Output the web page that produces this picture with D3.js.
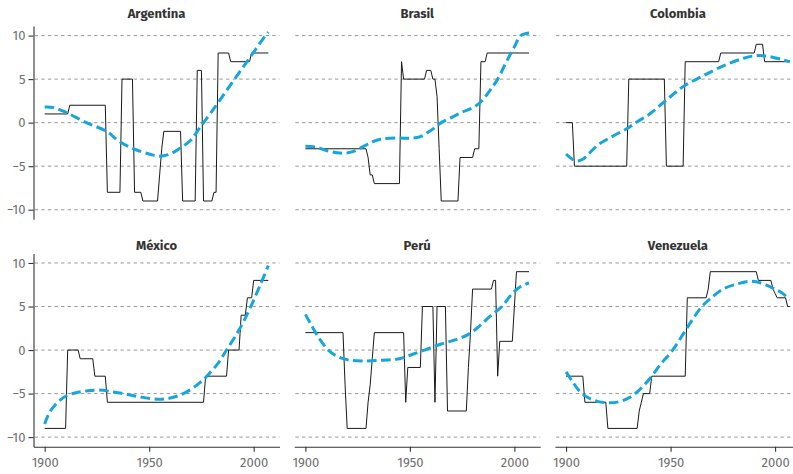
<!DOCTYPE html>
<html>
<head>
<meta charset="utf-8">
<script src="https://cdn.jsdelivr.net/npm/d3@7/dist/d3.min.js"></script>
<style>
  body { margin: 0; background: #fff; }
  svg { display: block; font-family: "Fira Sans", Roboto, "Noto Sans", sans-serif; }
</style>
</head>
<body>
<script>
// polity score per country: [year, score] vertices
var argentinaScore = [[1900,1],[1911,1],[1912,2],[1929,2],[1930,-8],[1936,-8],[1937,5],[1942,5],[1943,-8],[1946,-8],[1947,-9],[1954,-9],[1955,-6],[1956,-3],[1957,-1],[1965,-1],[1966,-9],[1972,-9],[1973,6],[1975,6],[1976,-9],[1980,-9],[1981,-8],[1982,-8],[1983,8],[1988,8],[1989,7],[1998,7],[1999,8],[2007,8]];
var brasilScore = [[1900,-3],[1929,-3],[1930,-4],[1931,-6],[1932,-6],[1933,-7],[1945,-7],[1946,7],[1947,5],[1957,5],[1958,6],[1960,6],[1961,5],[1962,5],[1963,3],[1964,-3],[1965,-9],[1973,-9],[1974,-4],[1980,-4],[1981,-3],[1983,-3],[1984,7],[1986,7],[1987,8],[2007,8]];
var colombiaScore = [[1900,0],[1903,0],[1904,-5],[1929,-5],[1930,5],[1947,5],[1948,-5],[1956,-5],[1957,7],[1973,7],[1974,8],[1990,8],[1991,9],[1994,9],[1995,7],[2007,7]];
var mexicoScore = [[1900,-9],[1910,-9],[1911,0],[1916,0],[1917,-1],[1923,-1],[1924,-3],[1929,-3],[1930,-6],[1976,-6],[1977,-3],[1987,-3],[1988,0],[1993,0],[1994,4],[1996,4],[1997,6],[1999,6],[2000,8],[2007,8]];
var peruScore = [[1900,2],[1918,2],[1919,-4],[1920,-9],[1929,-9],[1930,-6],[1931,-4],[1932,-1],[1933,2],[1947,2],[1948,-6],[1949,-2],[1955,-2],[1956,5],[1961,5],[1962,-6],[1963,5],[1967,5],[1968,-7],[1977,-7],[1978,-2],[1979,2],[1980,7],[1989,7],[1990,8],[1991,8],[1992,-3],[1993,1],[1999,1],[2000,5],[2001,9],[2007,9]];
var venezuelaScore = [[1900,-3],[1908,-3],[1909,-6],[1919,-6],[1920,-9],[1934,-9],[1935,-7],[1936,-6],[1937,-5],[1940,-5],[1941,-3],[1957,-3],[1958,6],[1967,6],[1968,7],[1969,9],[1991,9],[1992,8],[1998,8],[1999,7],[2000,6.5],[2001,6],[2005,6],[2006,5],[2007,5]];

// smoothed trend (blue dashed)
var argentinaTrend = [[1900,1.8],[1904,1.75],[1910,1.2],[1920,0],[1930,-1.05],[1935,-2.05],[1942,-2.95],[1950,-3.6],[1955,-3.85],[1960,-3.6],[1965,-2.9],[1970,-2.0],[1973,-1.0],[1976,0],[1980,1.3],[1985,3.0],[1990,4.7],[1995,6.4],[2000,8.1],[2005,9.8],[2007,10.4]];
var brasilTrend = [[1900,-2.7],[1905,-2.8],[1910,-3.2],[1915,-3.45],[1919,-3.5],[1923,-3.3],[1928,-2.7],[1932,-2.2],[1936,-1.9],[1944,-1.75],[1950,-1.8],[1955,-1.6],[1960,-0.9],[1965,0],[1970,0.6],[1975,1.2],[1980,1.7],[1984,2.4],[1988,3.6],[1992,5.0],[1996,6.9],[2000,8.7],[2003,10.0],[2007,10.3]];
var colombiaTrend = [[1900,-3.6],[1903,-4.2],[1905,-4.4],[1908,-4.2],[1915,-2.6],[1922,-1.6],[1929,-0.7],[1934,0.1],[1940,1.0],[1946,2.2],[1952,3.4],[1957,4.3],[1965,5.3],[1975,6.5],[1985,7.4],[1991,7.7],[1997,7.6],[2004,7.2],[2007,7.0]];
var mexicoTrend = [[1900,-8.5],[1902,-7.3],[1905,-6.3],[1910,-5.3],[1915,-4.9],[1920,-4.7],[1926,-4.6],[1935,-4.9],[1945,-5.35],[1955,-5.65],[1962,-5.4],[1968,-4.8],[1974,-3.8],[1978,-2.9],[1983,-1.5],[1987,0],[1991,1.5],[1995,3.2],[1999,5.2],[2003,7.4],[2007,9.7]];
var peruTrend = [[1900,4.1],[1903,2.8],[1907,1.2],[1911,0],[1915,-0.7],[1920,-1.1],[1927,-1.25],[1935,-1.2],[1945,-1.0],[1950,-0.6],[1957,0],[1965,0.7],[1972,1.2],[1978,1.8],[1983,2.7],[1988,3.8],[1994,5.0],[1999,6.5],[2003,7.3],[2007,7.7]];
var venezuelaTrend = [[1900,-2.5],[1903,-3.6],[1906,-4.6],[1910,-5.4],[1915,-5.9],[1920,-6.05],[1925,-5.95],[1930,-5.5],[1935,-4.6],[1940,-3.3],[1945,-1.7],[1951,0],[1957,2.2],[1961,3.7],[1965,5.0],[1969,5.9],[1975,7.0],[1982,7.6],[1988,7.9],[1994,7.65],[1999,7.1],[2003,6.6],[2007,5.8]];

var countries = ["Argentina", "Brasil", "Colombia", "México", "Perú", "Venezuela"];
var scores = [argentinaScore, brasilScore, colombiaScore, mexicoScore, peruScore, venezuelaScore];
var trends = [argentinaTrend, brasilTrend, colombiaTrend, mexicoTrend, peruTrend, venezuelaTrend];

var yTicks = [-10, -5, 0, 5, 10];
var xTicks = [1900, 1950, 2000];

var width = 793, height = 474;
var panelW = 246, panelH = 193.3;
var colLeft = [33.5, 294.2, 554.9];
var rowTop = [26, 253.4];
var titleY = [18, 250];

var svg = d3.select("body").append("svg")
    .attr("width", width)
    .attr("height", height);

var x = d3.scaleLinear().domain([1894.65, 2012.35]).range([0, panelW]);
var y = d3.scaleLinear().domain([-11.1, 11.1]).range([panelH, 0]);

var scoreLine = d3.line()
    .x(function (d) { return x(d[0]); })
    .y(function (d) { return y(d[1]); });

var trendLine = d3.line()
    .x(function (d) { return x(d[0]); })
    .y(function (d) { return y(d[1]); })
    .curve(d3.curveCatmullRom.alpha(0.5));

for (var i = 0; i < countries.length; i++) {
    var col = i % 3, row = Math.floor(i / 3);
    var g = svg.append("g")
        .attr("transform", "translate(" + colLeft[col] + "," + rowTop[row] + ")");

    // dashed grid
    g.selectAll(".grid")
        .data(yTicks)
        .enter().append("line")
        .attr("x1", 0)
        .attr("x2", panelW)
        .attr("y1", function (d) { return y(d); })
        .attr("y2", function (d) { return y(d); })
        .attr("stroke", "#8c8c8c")
        .attr("stroke-width", 0.9)
        .attr("stroke-dasharray", "3.3,3.3")
        .attr("stroke-dashoffset", -1.2);

    g.append("path")
        .datum(scores[i])
        .attr("d", scoreLine)
        .attr("fill", "none")
        .attr("stroke", "#1a1a1a")
        .attr("stroke-width", 1);

    g.append("path")
        .datum(trends[i])
        .attr("d", trendLine)
        .attr("fill", "none")
        .attr("stroke", "#16a6df")
        .attr("stroke-width", 3)
        .attr("stroke-dasharray", "9.5,4.5");

    svg.append("text")
        .attr("x", colLeft[col] + panelW / 2)
        .attr("y", titleY[row])
        .attr("text-anchor", "middle")
        .attr("font-size", 13)
        .attr("font-weight", "bold")
        .attr("fill", "#333")
        .text(countries[i]);

    if (col === 0) {
        var ya = g.append("g")
            .call(d3.axisLeft(y).tickValues(yTicks).tickSize(5).tickSizeOuter(0).tickPadding(3));
        ya.select(".domain").attr("stroke", "#333").attr("stroke-width", 1.1);
        ya.selectAll(".tick line").attr("stroke", "#333").attr("stroke-width", 1.1);
        ya.selectAll(".tick text").attr("fill", "#6e6e6e").attr("font-size", 13)
            .attr("font-family", "\"Fira Sans\", Roboto, sans-serif");
    }
    if (row === 1) {
        var xa = g.append("g")
            .attr("transform", "translate(0," + panelH + ")")
            .call(d3.axisBottom(x).tickValues(xTicks).tickFormat(d3.format("d")).tickSize(5).tickSizeOuter(0).tickPadding(6));
        xa.select(".domain").attr("stroke", "#333").attr("stroke-width", 1.1);
        xa.selectAll(".tick line").attr("stroke", "#333").attr("stroke-width", 1.1);
        xa.selectAll(".tick text").attr("fill", "#6e6e6e").attr("font-size", 13)
            .attr("font-family", "\"Fira Sans\", Roboto, sans-serif");
    }
}
</script>
</body>
</html>
